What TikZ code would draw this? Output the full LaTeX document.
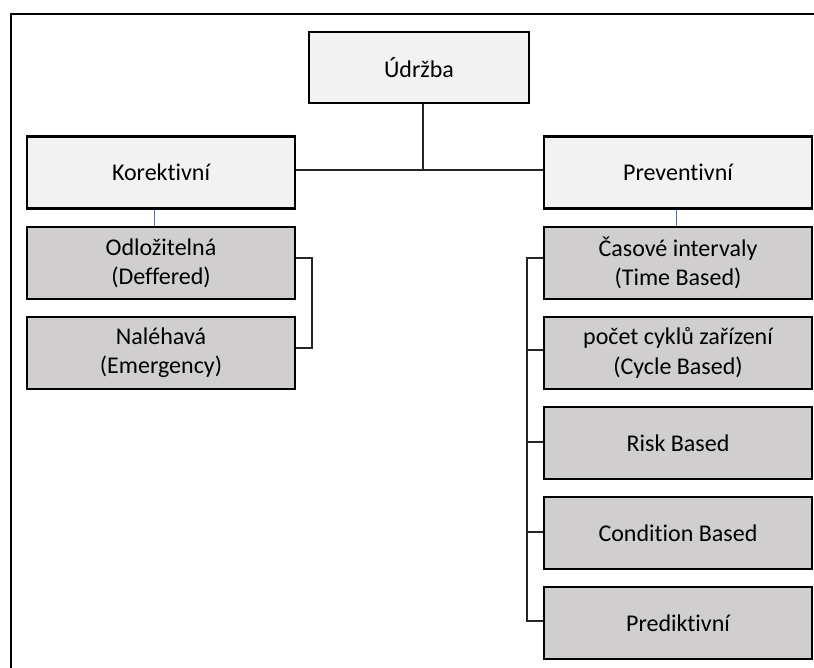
\documentclass[tikz,border=0pt]{standalone}
\usepackage{fontspec}
\setmainfont[RawFeature={-liga;-clig;-calt;-dlig}]{Carlito}
\definecolor{boxlight}{HTML}{F2F2F2}
\definecolor{boxdark}{HTML}{D0CECE}
\definecolor{linkblue}{HTML}{4472C4}
\begin{document}
\begin{tikzpicture}[x=1pt,y=-1pt,
  box/.style={draw=black, line width=2.5pt, inner sep=0pt, align=center,
    minimum width=268pt, minimum height=72pt,
    font=\fontsize{24pt}{29.3pt}\selectfont},
  toplevel/.style={box, fill=boxlight},
  sublevel/.style={box, fill=boxdark},
  tree/.style={draw=black!85, line width=1.7pt},
  link/.style={draw=linkblue, line width=1pt}]
  \useasboundingbox (0,0) rectangle (814,668);
  % outer frame (open on the right and at the bottom)
  \draw[line width=2pt] (11,668) -- (11,14) -- (814,14);

  % top and second level
  \node[toplevel, minimum width=220pt, minimum height=71pt] (udrzba) at (419,67.5) {Údržba};
  \node[toplevel] (kor)  at (161,172.5) {Korektivní};
  \node[toplevel] (prev) at (678,172.5) {Preventivní};

  % corrective maintenance
  \node[sublevel] (odl)   at (161,263) {Odložitelná\\(Deffered)};
  \node[sublevel] (naleh) at (161,353) {Naléhavá\\(Emergency)};

  % preventive maintenance
  \node[sublevel] (cas)   at (678,263) {Časové intervaly\\(Time Based)};
  \node[sublevel] (pocet) at (678,353) {počet cyklů zařízení\\(Cycle Based)};
  \node[sublevel] (risk)  at (678,443) {Risk Based};
  \node[sublevel] (cond)  at (678,533) {Condition Based};
  \node[sublevel] (pred)  at (678,623) {Prediktivní};

  % trunk from the root to the two branches
  \coordinate (drop) at (423,0);
  \coordinate (hub) at (423,170);
  \draw[tree] (drop |- udrzba.south) -- (hub);
  \draw[tree] (kor.east |- hub) -- (prev.west |- hub);

  % links from branch to first child
  \draw[link] (kor.south -| 154,0) -- (odl.north -| 154,0);
  \draw[link] (prev.south -| 676,0) -- (cas.north -| 676,0);

  % bracket on the corrective side
  \coordinate (lb1) at ([yshift=5pt]odl.east);
  \coordinate (lb2) at ([yshift=5pt]naleh.east);
  \draw[tree] (lb1) -- (lb1 -| 312,0) -- (lb2 -| 312,0) -- (lb2);

  % bracket on the preventive side
  \coordinate (rb1) at ([yshift=5pt]cas.west);
  \coordinate (rb2) at ([yshift=3pt]pocet.west);
  \coordinate (rb3) at ([yshift=1pt]risk.west);
  \coordinate (rb4) at ([yshift=1pt]cond.west);
  \coordinate (rb5) at ([yshift=2pt]pred.west);
  \draw[tree] (rb1) -- (rb1 -| 527,0) -- (rb5 -| 527,0) -- (rb5);
  \draw[tree] (rb2 -| 527,0) -- (rb2);
  \draw[tree] (rb3 -| 527,0) -- (rb3);
  \draw[tree] (rb4 -| 527,0) -- (rb4);
\end{tikzpicture}
\end{document}
